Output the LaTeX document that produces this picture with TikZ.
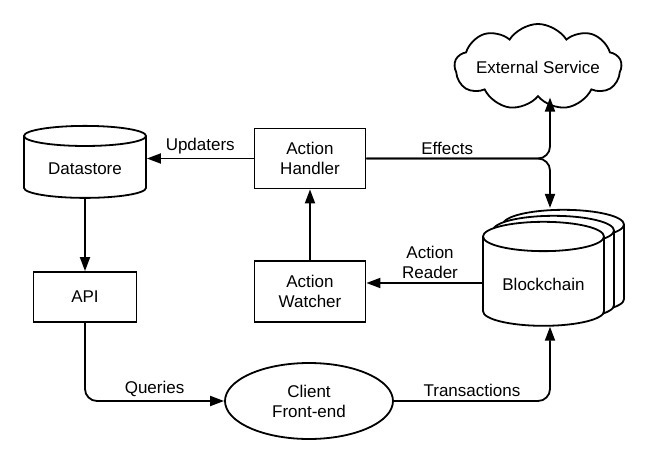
\documentclass[tikz,border=0pt]{standalone}
\usepackage{fontspec}
\setmainfont{Liberation Sans}
\usetikzlibrary{arrows.meta,shapes.geometric,shapes.symbols,shadows}

\begin{document}
\begin{tikzpicture}[x=1pt, y=-1pt, line width=1.8pt,
  font=\fontsize{17}{20}\selectfont,
  box/.style={draw, rectangle, align=center, minimum width=111pt, minimum height=60pt},
  store/.style={draw, cylinder, shape border rotate=90, fill=white},
  flow/.style={-{Triangle[length=14pt,width=10pt]}, rounded corners=12pt}]
  \useasboundingbox (0,0) rectangle (659,463);
  % nodes
  \node[store, minimum width=122pt, minimum height=72pt, aspect=0.25] (datastore) at (85,169) {Datastore};
  \node[box] (handler) at (310,158.5) {Action\\Handler};
  \node[box, minimum height=61pt] (watcher) at (310,291.5) {Action\\Watcher};
  \node[box, minimum width=103pt, minimum height=50pt] (api) at (85,297) {API};
  \node[draw, cloud, cloud puffs=9, cloud puff arc=115, aspect=2.1, inner xsep=-14pt, inner ysep=-16pt, minimum width=167pt, minimum height=81pt] (service) at (538,67) {External Service};
  \node[store, minimum width=121pt, minimum height=104pt, aspect=0.33,
    double copy shadow={shadow xshift=10pt, shadow yshift=6pt}] (chain) at (543.5,284) {Blockchain};
  \node[draw, ellipse, align=center, minimum width=168pt, minimum height=76pt] (client) at (309,401) {Client\\Front-end};
  \coordinate (split) at (550,159);
  \coordinate (chaintop) at ([yshift=13pt]chain.north);
  % connectors
  \path[flow]
    (handler.west) edge node[above] {Updaters} (datastore.east |- handler.west)
    (datastore) edge (api)
    (watcher) edge (handler);
  \draw[flow] (handler.east) -| node[pos=0.22, above] {Effects} (split |- service.south);
  \draw[flow] (handler.east) -| (split |- chaintop);
  \draw[flow] ([yshift=1pt]chain.west) -- node[above, pos=0.45, align=center] {Action\\Reader} ([yshift=1pt]chain.west -| watcher.east);
  \draw[flow] (api.south) |- node[pos=0.75, above] {Queries} (client.west);
  \draw[flow] (client.east) -| node[pos=0.25, above] {Transactions} (split |- chain.south);
\end{tikzpicture}
\end{document}
